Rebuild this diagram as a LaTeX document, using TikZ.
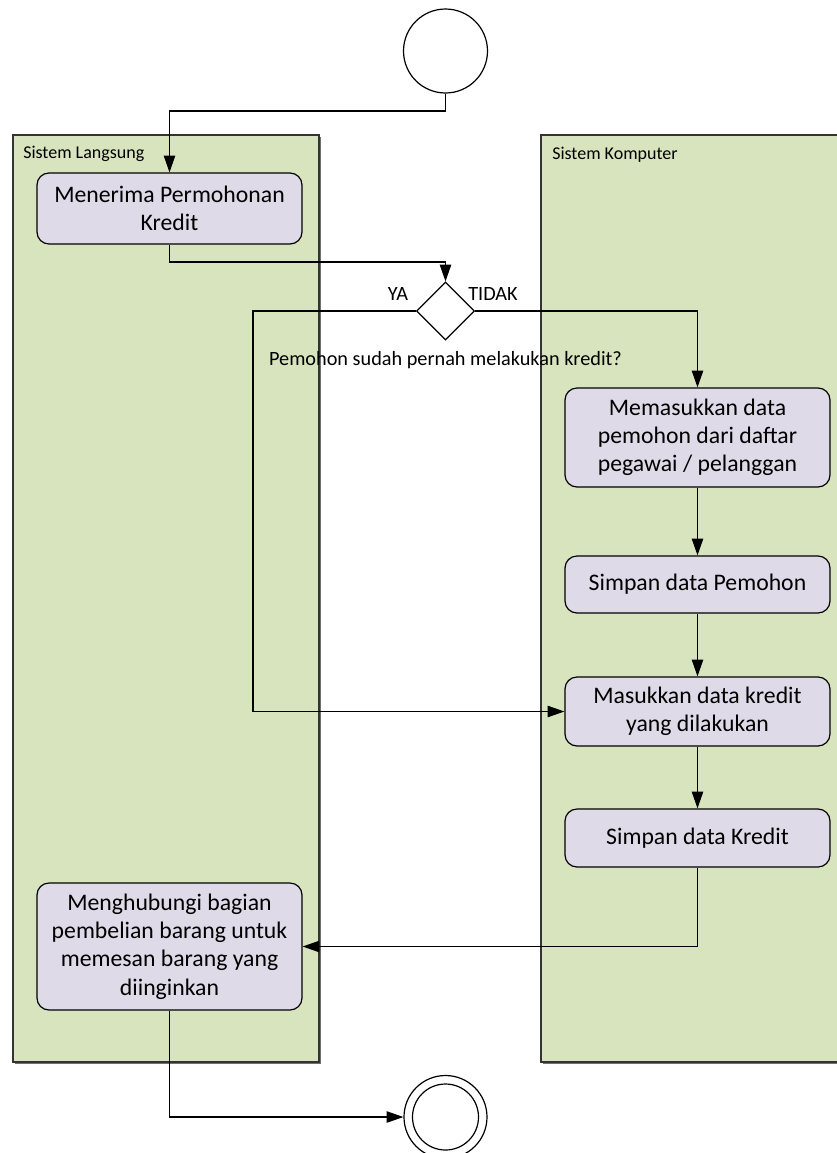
\documentclass[tikz,border=0pt]{standalone}
\usepackage{fontspec}
\setmainfont{Carlito}
\usetikzlibrary{shapes.geometric,arrows.meta}

\definecolor{lanefill}{HTML}{D7E4BD}
\definecolor{laneline}{HTML}{333333}
\definecolor{actfill}{HTML}{DFDAE8}

\tikzset{
  x=0.75pt, y=-0.75pt,
  lane/.style={fill=lanefill, draw=laneline, line width=0.9pt},
  lanetitle/.style={anchor=west, font=\fontsize{13.5}{16}\selectfont, inner sep=0pt},
  act/.style={draw=black, fill=actfill, rounded corners=9pt, line width=0.9pt,
    minimum width=198.75pt, align=center, inner sep=2pt,
    font=\fontsize{17.8}{21.2}\selectfont},
  decision/.style={diamond, draw=black, fill=white, line width=0.9pt,
    minimum width=43.5pt, minimum height=43.5pt, inner sep=0pt},
  flow/.style={draw=black, line width=0.8pt, -{Triangle[length=12.5pt,width=8.5pt]}},
  lbl/.style={font=\fontsize{15.2}{18}\selectfont, inner sep=0pt}
}

\begin{document}
\begin{tikzpicture}
\useasboundingbox (0,0) rectangle (837,1153);

% swimlanes with a slight drop shadow
\fill[laneline!70] (14.5,136.5) rectangle (320.5,1063.5);
\fill[laneline!70] (542.5,136.5) rectangle (840,1063.5);
\path[lane] (13,135) rectangle (319,1062);
\path[lane] (541,135) rectangle (845,1062);
\node[lanetitle] (laneA) at (23,154) {Sistem Langsung};
\node[lanetitle] (laneB) at (552,155) {Sistem Komputer};

% initial and final states
\node[circle, draw=black, fill=white, line width=0.9pt, minimum size=63pt, inner sep=0pt] (start) at (445.5,51) {};
\node[circle, draw=black, fill=white, line width=0.9pt, minimum size=62.25pt, inner sep=0pt] (endo) at (445.5,1117) {};
\node[circle, draw=black, fill=white, line width=0.9pt, minimum size=49.5pt, inner sep=0pt] (endi) at (445.5,1117) {};

% activities
\node[act, minimum height=53.25pt] (a1) at (169.5,208.5) {Menerima Permohonan\\Kredit};
\node[act, minimum height=74.25pt] (a2) at (697.5,437.5) {Memasukkan data\\pemohon dari daftar\\pegawai / pelanggan};
\node[act, minimum height=42.75pt] (a3) at (697.5,584.5) {Simpan data Pemohon};
\node[act, minimum height=51.75pt] (a4) at (697.5,711.5) {Masukkan data kredit\\yang dilakukan};
\node[act, minimum height=43.5pt] (a5) at (697.5,838) {Simpan data Kredit};
\node[act, minimum height=95.25pt] (a6) at (169.5,946.5) {Menghubungi bagian\\pembelian barang untuk\\memesan barang yang\\diinginkan};

% decision
\node[decision] (dec) at (445.5,311) {};
\node[lbl] (ya) at (398,294) {YA};
\node[lbl] (tidak) at (493,294) {TIDAK};
\node[lbl] (q) at (445.5,360) {Pemohon sudah pernah melakukan kredit?};

% bend points
\coordinate (j1) at (169.5,111);
\coordinate (j2) at (445.5,262);
\coordinate (j3) at (253,311);

% connectors
\draw[flow] (start.south) |- (j1) -- (a1.north);
\draw[flow] (a1.south) |- (j2) -- (dec.north);
\draw[flow] (dec.east) -| (a2.north);
\draw[flow] (dec.west) -- (j3) |- (a4.west);
\draw[flow] (a2.south) -- (a3.north);
\draw[flow] (a3.south) -- (a4.north);
\draw[flow] (a4.south) -- (a5.north);
\draw[flow] (a5.south) |- (a6.east);
\draw[flow] (a6.south) |- (endo.west);
\end{tikzpicture}
\end{document}
